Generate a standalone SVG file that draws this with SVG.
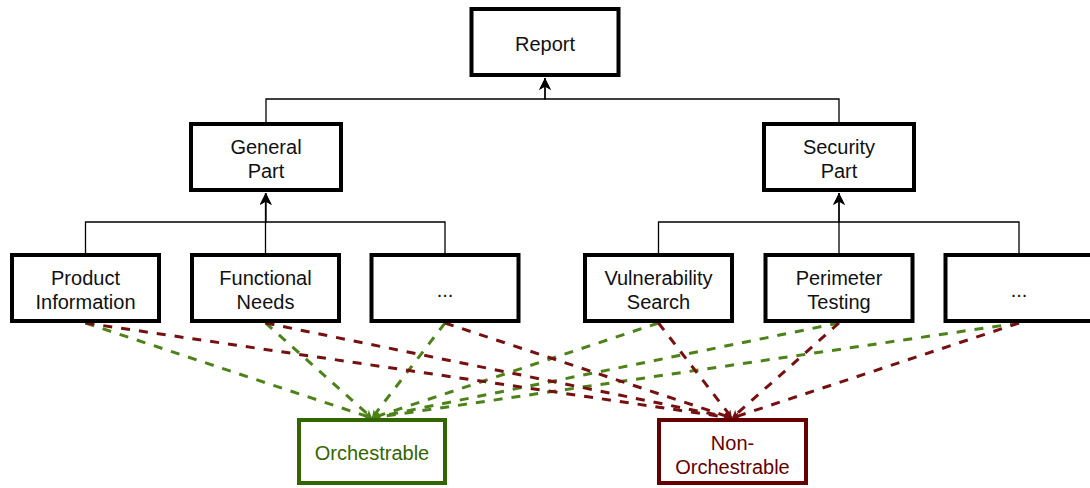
<svg xmlns="http://www.w3.org/2000/svg" width="1090" height="488" viewBox="0 0 1090 488">
  <style>
    .box { fill: #ffffff; stroke: #000000; stroke-width: 4; }
    .lbl { font-family: "Liberation Sans", Arial, sans-serif; font-size: 20px; fill: #111111; text-anchor: middle; }
    .tree { fill: none; stroke: #000000; stroke-width: 1.3; }
    .orch { fill: #ffffff; stroke: #336600; stroke-width: 4; }
    .nonorch { fill: #ffffff; stroke: #660000; stroke-width: 4; }
    .g { fill: none; stroke: #4c8219; stroke-width: 3; stroke-dasharray: 9 9; }
    .r { fill: none; stroke: #761010; stroke-width: 3; stroke-dasharray: 9 9; }
  </style>
  <defs>
    <marker id="arrowBlack" markerUnits="userSpaceOnUse" markerWidth="14" markerHeight="14" refX="12" refY="6" orient="auto">
      <path d="M0,0 L12,6 L0,12 L3.5,6 z" fill="#000000"/>
    </marker>
    <marker id="arrowGreen" markerUnits="userSpaceOnUse" markerWidth="10" markerHeight="10" refX="8" refY="4" orient="auto">
      <path d="M0,0 L8,4 L0,8 L2.4,4 z" fill="#4c8219"/>
    </marker>
    <marker id="arrowRed" markerUnits="userSpaceOnUse" markerWidth="10" markerHeight="10" refX="8" refY="4" orient="auto">
      <path d="M0,0 L8,4 L0,8 L2.4,4 z" fill="#761010"/>
    </marker>
  </defs>

  <!-- hierarchy and classification links -->
  <g id="connectors">
    <path class="tree" d="M266,122 V99 H545 V78" marker-end="url(#arrowBlack)"/>
    <path class="tree" d="M839,122 V99 H545 V78" marker-end="url(#arrowBlack)"/>
    <path class="tree" d="M85.5,253 V222 H266 V193" marker-end="url(#arrowBlack)"/>
    <path class="tree" d="M265.5,253 V193" marker-end="url(#arrowBlack)"/>
    <path class="tree" d="M445,253 V222 H266"/>
    <path class="tree" d="M658.5,253 V222 H839 V193" marker-end="url(#arrowBlack)"/>
    <path class="tree" d="M839,253 V193" marker-end="url(#arrowBlack)"/>
    <path class="tree" d="M1019,253 V222 H839"/>

    <!-- to Orchestrable -->
    <path class="g" d="M85.5,323 L372,418" marker-end="url(#arrowGreen)"/>
    <path class="g" d="M265.5,323 L372,418" marker-end="url(#arrowGreen)"/>
    <path class="g" d="M445,323 L372,418" marker-end="url(#arrowGreen)"/>
    <path class="g" d="M658.5,323 L372,418" marker-end="url(#arrowGreen)"/>
    <path class="g" d="M839,323 L372,418" marker-end="url(#arrowGreen)"/>
    <path class="g" d="M1019,323 L372,418" marker-end="url(#arrowGreen)"/>

    <!-- to Non-Orchestrable -->
    <path class="r" d="M85.5,323 L732,418" marker-end="url(#arrowRed)"/>
    <path class="r" d="M265.5,323 L732,418" marker-end="url(#arrowRed)"/>
    <path class="r" d="M445,323 L732,418" marker-end="url(#arrowRed)"/>
    <path class="r" d="M658.5,323 L732,418" marker-end="url(#arrowRed)"/>
    <path class="r" d="M839,323 L732,418" marker-end="url(#arrowRed)"/>
    <path class="r" d="M1019,323 L732,418" marker-end="url(#arrowRed)"/>
  </g>

  <g id="report">
    <rect class="box" x="471.5" y="9" width="147" height="66"/>
    <text class="lbl" x="545" y="51">Report</text>
  </g>

  <g id="general-part">
    <rect class="box" x="191" y="124" width="150" height="66"/>
    <text class="lbl" x="266" y="154">General</text>
    <text class="lbl" x="266" y="178">Part</text>
  </g>

  <g id="security-part">
    <rect class="box" x="764" y="124" width="150" height="66"/>
    <text class="lbl" x="839" y="154">Security</text>
    <text class="lbl" x="839" y="178">Part</text>
  </g>

  <g id="product-information">
    <rect class="box" x="12" y="255" width="147" height="66"/>
    <text class="lbl" x="85.5" y="285">Product</text>
    <text class="lbl" x="85.5" y="309">Information</text>
  </g>

  <g id="functional-needs">
    <rect class="box" x="192" y="255" width="147" height="66"/>
    <text class="lbl" x="265.5" y="285">Functional</text>
    <text class="lbl" x="265.5" y="309">Needs</text>
  </g>

  <g id="general-more">
    <rect class="box" x="371.5" y="255" width="147" height="66"/>
    <text class="lbl" x="445" y="297">...</text>
  </g>

  <g id="vulnerability-search">
    <rect class="box" x="585" y="255" width="147" height="66"/>
    <text class="lbl" x="658.5" y="285">Vulnerability</text>
    <text class="lbl" x="658.5" y="309">Search</text>
  </g>

  <g id="perimeter-testing">
    <rect class="box" x="765.5" y="255" width="147" height="66"/>
    <text class="lbl" x="839" y="285">Perimeter</text>
    <text class="lbl" x="839" y="309">Testing</text>
  </g>

  <g id="security-more">
    <rect class="box" x="945.5" y="255" width="147" height="66"/>
    <text class="lbl" x="1019" y="297">...</text>
  </g>

  <g id="orchestrable">
    <rect class="orch" x="299" y="420" width="146" height="63"/>
    <text class="lbl" x="372" y="460" style="fill:#336600">Orchestrable</text>
  </g>

  <g id="non-orchestrable">
    <rect class="nonorch" x="659" y="420" width="147" height="63"/>
    <text class="lbl" x="732.5" y="450" style="fill:#660000">Non-</text>
    <text class="lbl" x="732.5" y="474" style="fill:#660000">Orchestrable</text>
  </g>
</svg>
